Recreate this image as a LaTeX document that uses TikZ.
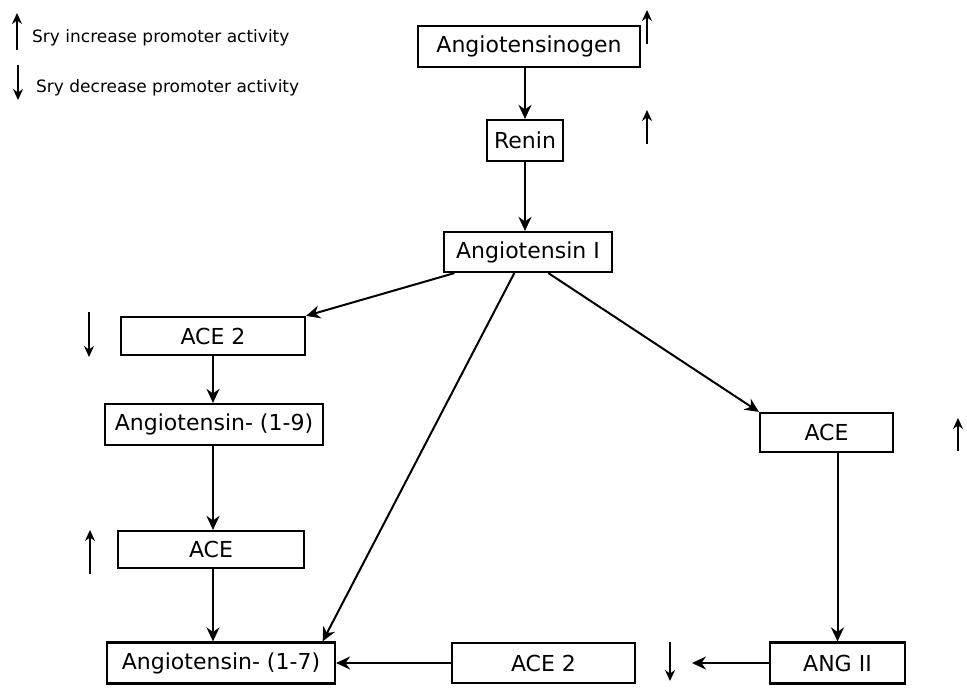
\documentclass[tikz,border=0pt]{standalone}
\usepackage{fontspec}
\setmainfont{DejaVu Sans}
\usetikzlibrary{arrows.meta,positioning}
\tikzstyle{enzyme}=[draw,rectangle,line width=2.2pt,inner sep=0pt,font=\fontsize{22}{24}\selectfont]
\tikzstyle{legendtext}=[inner sep=0pt,font=\fontsize{17}{19}\selectfont]
\tikzstyle{flow}=[line width=2pt,-{Stealth[length=14pt,width=13pt]}]
\tikzstyle{srymark}=[line width=2.2pt,-{Stealth[length=11pt,width=10pt]}]

\begin{document}
\begin{tikzpicture}[x=1pt,y=-1pt]
\useasboundingbox (0,0) rectangle (967,691);
% legend
\draw [srymark] (17,50) -- (17,13);
\node [legendtext,anchor=base west] (upinfo) at (32,42) {Sry increase promoter activity};
\draw [srymark] (18,65) -- (18,100);
\node [legendtext,anchor=base west] (downinfo) at (36,92) {Sry decrease promoter activity};

% boxes
\node [enzyme,minimum width=222pt,minimum height=41pt] (ago) at (529,46.5) {Angiotensinogen};
\node [enzyme,minimum width=76pt,minimum height=41pt] (renin) at (525,140.5) {Renin};
\node [enzyme,minimum width=168pt,minimum height=40pt] (ang1) at (528,252) {Angiotensin I};
\node [enzyme,minimum width=184pt,minimum height=38pt] (ace2a) at (213,336) {ACE 2};
\node [enzyme,minimum width=218pt,minimum height=41pt] (ang19) at (214,424.5) {Angiotensin- (1-9)};
\node [enzyme,minimum width=186pt,minimum height=37pt] (acea) at (211,549.5) {ACE};
\node [enzyme,minimum width=228pt,minimum height=41pt] (ang17) at (221,663) {Angiotensin- (1-7)};
\node [enzyme,minimum width=183pt,minimum height=40pt] (ace2b) at (543.5,663) {ACE 2};
\node [enzyme,minimum width=135pt,minimum height=41pt] (ang2) at (837.5,663) {ANG II};
\node [enzyme,minimum width=133pt,minimum height=39pt] (aceb) at (826.5,432.5) {ACE};
\coordinate (ang2end) at (692,663);

% connectors
\draw [flow] (ago.south -| renin.north) -- (renin.north);
\draw [flow] (renin.south) -- (renin.south |- ang1.north);
\draw [flow] (ang1.-164) -- (ace2a.north east);
\draw [flow] (ang1.-123) -- (ang17.12);
\draw [flow] (ang1.-46) -- (aceb.north west);
\draw [flow] (ace2a.south) -- (ace2a.south |- ang19.north);
\draw [flow] (ace2a.south |- ang19.south) -- (ace2a.south |- acea.north);
\draw [flow] (ace2a.south |- acea.south) -- (ace2a.south |- ang17.north);
\draw [flow] (ang2.north |- aceb.south) -- (ang2.north);
\draw [flow] (ang2.west) -- (ang2end);
\draw [flow] (ace2b.west) -- (ang17.east);

% sry markers
\draw [srymark] (647,44) -- (647,10);
\draw [srymark] (647,144) -- (647,110);
\draw [srymark] (89,312) -- (89,357);
\draw [srymark] (90,574) -- (90,530);
\draw [srymark] (958,451) -- (958,418);
\draw [srymark] (670,642) -- (670,681);
\end{tikzpicture}
\end{document}
